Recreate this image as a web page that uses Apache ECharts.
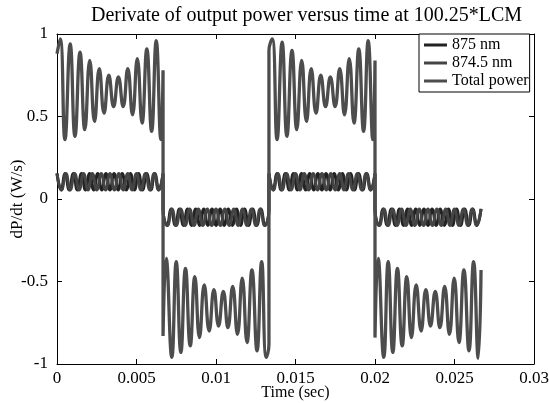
<!DOCTYPE html>
<html><head><meta charset="utf-8">
<script src="https://cdn.jsdelivr.net/npm/echarts@6/dist/echarts.min.js"></script>
<style>html,body{margin:0;padding:0;background:#fff}#c{width:549px;height:403px}</style>
</head><body><div id="c"></div>
<script>
// ---- data (extrema of each trace) ----
var totalT = [0,0.0002,0.0005,0.00083,0.00113,0.00145,0.00175,0.00206,0.00236,0.00266,0.00296,0.00326,0.00356,0.00386,0.00416,0.00445,0.00475,0.00505,0.00535,0.00565,0.00595,0.00624,0.00653,0.00667,
 0.00667,0.00687,0.00722,0.0075,0.00779,0.00808,0.00838,0.00867,0.00896,0.00926,0.00957,0.00987,0.01016,0.01046,0.01075,0.01105,0.01135,0.01165,0.01195,0.01226,0.01258,0.01287,0.01316,0.01333,
 0.01333,0.01354,0.01384,0.01416,0.01446,0.01478,0.01508,0.01539,0.01569,0.01599,0.01629,0.01659,0.01689,0.01719,0.01749,0.01778,0.01808,0.01838,0.01868,0.01898,0.01928,0.01957,0.01986,0.02,
 0.02,0.0202,0.02055,0.02083,0.02112,0.02141,0.02171,0.022,0.02229,0.02259,0.0229,0.0232,0.02349,0.02379,0.02408,0.02438,0.02468,0.02498,0.02528,0.02559,0.02591,0.0262,0.02649,0.02667];
var totalV = [0.88,0.97,0.36,0.94,0.38,0.89,0.42,0.84,0.47,0.79,0.52,0.75,0.56,0.74,0.56,0.79,0.51,0.85,0.46,0.91,0.41,0.96,0.36,0.78,
 -0.83,-0.36,-0.96,-0.38,-0.93,-0.42,-0.89,-0.47,-0.84,-0.52,-0.80,-0.55,-0.77,-0.56,-0.78,-0.53,-0.82,-0.48,-0.87,-0.43,-0.92,-0.38,-0.96,-0.88,
 0.9,0.97,0.36,0.95,0.38,0.9,0.42,0.84,0.47,0.79,0.52,0.75,0.56,0.74,0.56,0.79,0.51,0.85,0.46,0.91,0.41,0.96,0.36,0.84,
 -0.84,-0.36,-0.96,-0.38,-0.93,-0.42,-0.89,-0.47,-0.84,-0.52,-0.80,-0.55,-0.77,-0.56,-0.78,-0.53,-0.82,-0.48,-0.87,-0.43,-0.92,-0.38,-0.965,-0.43];

var nm875T = [0,0.00026,0.00051,0.00077,0.00103,0.00128,0.00154,0.00179,0.00205,0.00231,0.00256,0.00282,0.00308,0.00333,0.00359,0.00385,0.0041,0.00436,0.00462,0.00487,0.00513,0.00538,0.00564,0.0059,0.00615,0.00641,0.00667,
 0.00667,0.00693,0.00718,0.00744,0.0077,0.00795,0.00821,0.00846,0.00872,0.00898,0.00923,0.00949,0.00975,0.01,0.01026,0.01052,0.01077,0.01103,0.01129,0.01154,0.0118,0.01205,0.01231,0.01257,0.01282,0.01308,0.01333,
 0.01333,0.01359,0.01384,0.0141,0.01436,0.01461,0.01487,0.01512,0.01538,0.01564,0.01589,0.01615,0.01641,0.01666,0.01692,0.01718,0.01743,0.01769,0.01795,0.0182,0.01846,0.01871,0.01897,0.01923,0.01948,0.01974,0.02,
 0.02,0.02026,0.02051,0.02077,0.02103,0.02128,0.02154,0.02179,0.02205,0.02231,0.02256,0.02282,0.02308,0.02333,0.02359,0.02385,0.0241,0.02436,0.02462,0.02487,0.02513,0.02538,0.02564,0.0259,0.02615,0.02641,0.02667];
var nm875V = [0.155,0.055,0.155,0.055,0.155,0.055,0.155,0.055,0.155,0.055,0.155,0.055,0.155,0.055,0.155,0.055,0.155,0.055,0.155,0.055,0.155,0.055,0.155,0.055,0.155,0.055,0.155,
 -0.06,-0.16,-0.06,-0.16,-0.06,-0.16,-0.06,-0.16,-0.06,-0.16,-0.06,-0.16,-0.06,-0.16,-0.06,-0.16,-0.06,-0.16,-0.06,-0.16,-0.06,-0.16,-0.06,-0.16,-0.06,-0.16,-0.06,
 0.155,0.055,0.155,0.055,0.155,0.055,0.155,0.055,0.155,0.055,0.155,0.055,0.155,0.055,0.155,0.055,0.155,0.055,0.155,0.055,0.155,0.055,0.155,0.055,0.155,0.055,0.155,
 -0.06,-0.16,-0.06,-0.16,-0.06,-0.16,-0.06,-0.16,-0.06,-0.16,-0.06,-0.16,-0.06,-0.16,-0.06,-0.16,-0.06,-0.16,-0.06,-0.16,-0.06,-0.16,-0.06,-0.16,-0.06,-0.16,-0.06];

var nm8745T = [0,0.00028,0.00056,0.00083,0.00111,0.00139,0.00167,0.00195,0.00222,0.0025,0.00278,0.00306,0.00333,0.00361,0.00389,0.00417,0.00445,0.00472,0.005,0.00528,0.00556,0.00584,0.00611,0.00639,0.00667,
 0.00667,0.00695,0.00723,0.0075,0.00778,0.00806,0.00834,0.00862,0.00889,0.00917,0.00945,0.00973,0.01,0.01028,0.01056,0.01084,0.01112,0.01139,0.01167,0.01195,0.01223,0.01251,0.01278,0.01306,0.01333,
 0.01333,0.01361,0.01389,0.01416,0.01444,0.01472,0.015,0.01528,0.01555,0.01583,0.01611,0.01639,0.01666,0.01694,0.01722,0.0175,0.01778,0.01805,0.01833,0.01861,0.01889,0.01917,0.01944,0.01972,0.02,
 0.02,0.02028,0.02056,0.02083,0.02111,0.02139,0.02167,0.02195,0.02222,0.0225,0.02278,0.02306,0.02333,0.02361,0.02389,0.02417,0.02445,0.02472,0.025,0.02528,0.02556,0.02584,0.02611,0.02639,0.02667];
var nm8745V = [0.155,0.055,0.155,0.055,0.155,0.055,0.155,0.055,0.155,0.055,0.155,0.055,0.155,0.055,0.155,0.055,0.155,0.055,0.155,0.055,0.155,0.055,0.155,0.055,0.155,
 -0.06,-0.16,-0.06,-0.16,-0.06,-0.16,-0.06,-0.16,-0.06,-0.16,-0.06,-0.16,-0.06,-0.16,-0.06,-0.16,-0.06,-0.16,-0.06,-0.16,-0.06,-0.16,-0.06,-0.16,-0.06,
 0.155,0.055,0.155,0.055,0.155,0.055,0.155,0.055,0.155,0.055,0.155,0.055,0.155,0.055,0.155,0.055,0.155,0.055,0.155,0.055,0.155,0.055,0.155,0.055,0.155,
 -0.06,-0.16,-0.06,-0.16,-0.06,-0.16,-0.06,-0.16,-0.06,-0.16,-0.06,-0.16,-0.06,-0.16,-0.06,-0.16,-0.06,-0.16,-0.06,-0.16,-0.06,-0.16,-0.06,-0.16,-0.06];

var xTicks = [0,0.005,0.01,0.015,0.02,0.025,0.03];
var yTicks = [-1,-0.5,0,0.5,1];
var seriesNames = ['875 nm','874.5 nm','Total power'];

function pairs(t,v){var o=[];for(var i=0;i<t.length;i++)o.push([t[i],v[i]]);return o;}

var FONT = '"Liberation Serif","Times New Roman",serif';
var chart = echarts.init(document.getElementById('c'), null, {renderer:'canvas'});
var axisCommon = {
  axisLine:{show:true,onZero:false,lineStyle:{color:'#000',width:1}},
  axisTick:{show:true,inside:true,length:5,lineStyle:{color:'#000'}},
  splitLine:{show:false}
};
chart.setOption({
  animation:false,
  backgroundColor:'#fff',
  title:{text:'Derivate of output power versus time at 100.25*LCM',left:86,top:1,
    textStyle:{fontFamily:FONT,fontSize:20,fontWeight:'normal',color:'#000'}},
  legend:{data:seriesNames,orient:'vertical',left:419,top:34,backgroundColor:'#fff',borderColor:'#000',borderWidth:1,
    padding:[3,1,3,5],itemGap:2,itemWidth:23,itemHeight:3,icon:'rect',
    textStyle:{fontFamily:FONT,fontSize:16,color:'#000'}},
  grid:{left:57,right:15,top:34,bottom:39,containLabel:false,outerBoundsMode:'none'},
  xAxis:[Object.assign({type:'value',min:0,max:0.03,interval:0.005,position:'bottom',
      name:'Time (sec)',nameLocation:'middle',nameGap:21,nameMoveOverlap:false,
      nameTextStyle:{fontFamily:FONT,fontSize:16,color:'#000'},
      axisLabel:{fontFamily:FONT,fontSize:17,color:'#000',margin:6,formatter:function(v){return String(+v.toFixed(4));}}},axisCommon),
    Object.assign({type:'value',min:0,max:0.03,interval:0.005,position:'top',axisLabel:{show:false}},axisCommon)],
  yAxis:[Object.assign({type:'value',min:-1,max:1,interval:0.5,position:'left',
      name:'dP/dt (W/s)',nameLocation:'middle',nameGap:31,nameMoveOverlap:false,
      nameTextStyle:{fontFamily:FONT,fontSize:17,color:'#000'},
      axisLabel:{fontFamily:FONT,fontSize:17,color:'#000',margin:9}},axisCommon),
    Object.assign({type:'value',min:-1,max:1,interval:0.5,position:'right',axisLabel:{show:false}},axisCommon)],
  series:[
    {name:seriesNames[0],type:'line',data:pairs(nm875T,nm875V),symbol:'none',smooth:0.5,
      lineStyle:{color:'#222',width:3},itemStyle:{color:'#222'}},
    {name:seriesNames[1],type:'line',data:pairs(nm8745T,nm8745V),symbol:'none',smooth:0.5,
      lineStyle:{color:'#444',width:3},itemStyle:{color:'#444'}},
    {name:seriesNames[2],type:'line',data:pairs(totalT,totalV),symbol:'none',smooth:0.5,
      lineStyle:{color:'#4d4d4d',width:3.3},itemStyle:{color:'#4d4d4d'}}
  ]
});
</script></body></html>
